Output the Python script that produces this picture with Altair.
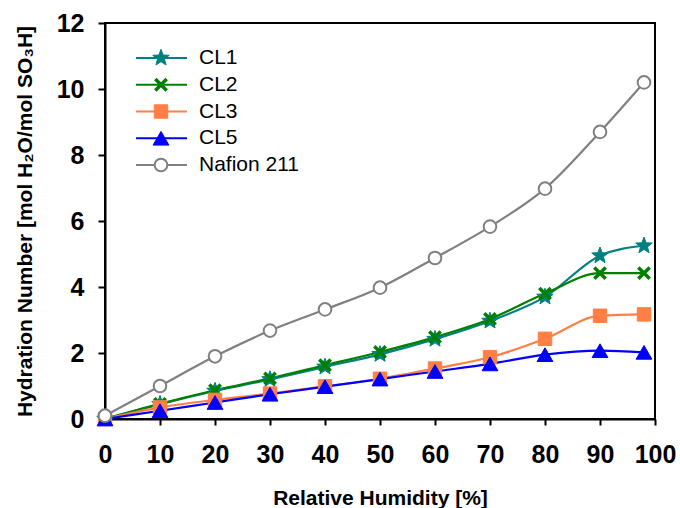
import altair as alt
import pandas as pd

# ---- data ----
rh = [0, 10, 20, 30, 40, 50, 60, 70, 80, 90, 98]
cl1 = [0.0, 0.45, 0.85, 1.20, 1.58, 1.96, 2.42, 2.97, 3.70, 4.95, 5.25]
cl2 = [0.0, 0.46, 0.87, 1.23, 1.63, 2.03, 2.48, 3.03, 3.80, 4.42, 4.42]
cl3 = [0.0, 0.35, 0.58, 0.77, 0.99, 1.22, 1.53, 1.87, 2.43, 3.13, 3.17]
cl5 = [0.0, 0.25, 0.50, 0.75, 0.98, 1.21, 1.44, 1.67, 1.95, 2.07, 2.02]
nafion = [0.10, 1.00, 1.90, 2.68, 3.32, 3.98, 4.88, 5.83, 6.98, 8.70, 10.20]

series_names = ["CL1", "CL2", "CL3", "CL5", "Nafion 211"]
series_values = [cl1, cl2, cl3, cl5, nafion]
x_ticks = [0, 10, 20, 30, 40, 50, 60, 70, 80, 90, 100]
y_ticks = [0, 2, 4, 6, 8, 10, 12]

line_colors = ["#008080", "#008000", "#FF7F45", "#0000FF", "#808080"]
fill_colors = ["#008080", "#008000", "#FF7F45", "#0000FF", "#FFFFFF"]
star = ("M0,-1L0.247,-0.34L0.951,-0.309L0.399,0.13L0.588,0.809L0,0.42"
        "L-0.588,0.809L-0.399,0.13L-0.951,-0.309L-0.247,-0.34Z")
xmark = "M-1,-1L1,1M-1,1L1,-1"
shapes = [star, xmark, "square", "triangle-up", "circle"]
stroke_widths = [1, 3.5, 1, 1, 2]
sizes = [300, 130, 180, 250, 160]

rows = []
for name, vals in zip(series_names, series_values):
    for x, v in zip(rh, vals):
        rows.append({"rh": x, "value": v, "series": name})
df = pd.DataFrame(rows)
legend_df = pd.DataFrame({"series": series_names})

FONT = "Liberation Sans"

color_scale = alt.Scale(domain=series_names, range=line_colors)
fill_scale = alt.Scale(domain=series_names, range=fill_colors)
shape_scale = alt.Scale(domain=series_names, range=shapes)
sw_scale = alt.Scale(type="ordinal", domain=series_names, range=stroke_widths)
size_scale = alt.Scale(type="ordinal", domain=series_names, range=sizes)

x_enc = alt.X(
    "rh:Q",
    scale=alt.Scale(domain=[0, 100], nice=False),
    axis=alt.Axis(
        values=x_ticks, grid=False, title="Relative Humidity [%]",
        labelFont=FONT, labelFontSize=25, labelFontWeight="bold", labelColor="black",
        labelPadding=17, labelFlush=False,
        tickColor="black", tickWidth=2, tickSize=6,
        domainColor="black", domainWidth=2,
        titleFont=FONT, titleFontSize=21, titleFontWeight="bold", titleColor="black",
        titleY=85, titleBaseline="alphabetic",
    ),
)
y_enc = alt.Y(
    "value:Q",
    scale=alt.Scale(domain=[0, 12], nice=False),
    axis=alt.Axis(
        values=y_ticks, grid=False,
        title="Hydration Number [mol H\u2082O/mol SO\u2083H]",
        labelFont=FONT, labelFontSize=25, labelFontWeight="bold", labelColor="black",
        labelPadding=14, labelFlush=False,
        tickColor="black", tickWidth=2, tickSize=7,
        domainColor="black", domainWidth=2,
        titleFont=FONT, titleFontSize=21, titleFontWeight="bold", titleColor="black",
        titleX=-74, titleBaseline="alphabetic",
    ),
)

lines = alt.Chart(df).mark_line(strokeWidth=2.2, interpolate="monotone").encode(
    x=x_enc, y=y_enc,
    color=alt.Color("series:N", scale=color_scale, legend=None),
    order=alt.Order("rh:Q"),
)

points = alt.Chart(df).mark_point(opacity=1).encode(
    x=x_enc, y=y_enc,
    shape=alt.Shape("series:N", scale=shape_scale, legend=None),
    stroke=alt.Stroke("series:N", scale=color_scale, legend=None),
    fill=alt.Fill("series:N", scale=fill_scale, legend=None),
    strokeWidth=alt.StrokeWidth("series:N", scale=sw_scale, legend=None),
    size=alt.Size("series:N", scale=size_scale, legend=None),
)

main = alt.layer(lines, points)

leg_y = alt.Y("series:N", sort=series_names,
              scale=alt.Scale(type="point", domain=series_names, range=[35, 142], padding=0),
              axis=None)

leg_lines = alt.Chart(legend_df).mark_rule(strokeWidth=2.2).encode(
    x=alt.value(31), x2=alt.value(82), y=leg_y,
    color=alt.Color("series:N", scale=color_scale, legend=None),
)
leg_points = alt.Chart(legend_df).mark_point(opacity=1).encode(
    x=alt.value(56), y=leg_y,
    shape=alt.Shape("series:N", scale=shape_scale, legend=None),
    stroke=alt.Stroke("series:N", scale=color_scale, legend=None),
    fill=alt.Fill("series:N", scale=fill_scale, legend=None),
    strokeWidth=alt.StrokeWidth("series:N", scale=sw_scale, legend=None),
    size=alt.Size("series:N", scale=size_scale, legend=None),
)
leg_text = alt.Chart(legend_df).mark_text(
    align="left", baseline="middle", font=FONT, fontSize=21, color="black"
).encode(x=alt.value(94), y=leg_y, text="series:N")

legend = alt.layer(leg_lines, leg_points, leg_text)

chart = (
    alt.layer(main, legend)
    .resolve_scale(y="independent")
    .properties(
        width=550, height=396,
        autosize=alt.AutoSizeParams(type="none"),
        padding={"left": 105, "top": 23, "right": 25, "bottom": 89},
        background="white",
    )
    .configure_view(stroke="black", strokeWidth=2)
)

chart.save("out.html", embed_options={"renderer": "svg", "actions": False})
